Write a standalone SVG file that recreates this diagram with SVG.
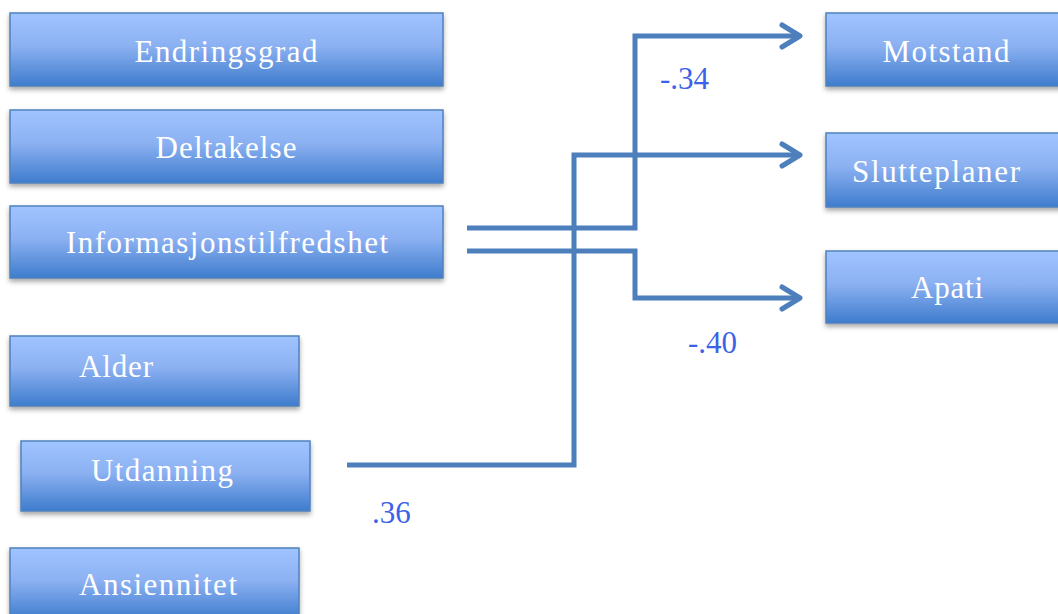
<svg xmlns="http://www.w3.org/2000/svg" width="1058" height="614" viewBox="0 0 1058 614">
<style>
.box{fill:url(#g);stroke:#4f81bd;stroke-width:1.5;filter:url(#sh)}
.t{font-family:"Liberation Serif","Times New Roman",serif;font-size:31px;fill:#ffffff;text-anchor:middle}
.c{fill:none;stroke:#4d7fbc;stroke-width:5;stroke-linejoin:miter}
.l{font-family:"Liberation Serif","Times New Roman",serif;font-size:31px;fill:#3b62e8}
</style>
<defs>
<linearGradient id="g" x1="0" y1="0" x2="0" y2="1">
<stop offset="0" stop-color="#a0c4ff"/>
<stop offset="0.45" stop-color="#8cb1f2"/>
<stop offset="1" stop-color="#3e7ccd"/>
</linearGradient>
<filter id="sh" x="-5%" y="-10%" width="110%" height="130%">
<feDropShadow dx="0" dy="3" stdDeviation="2.5" flood-color="#000" flood-opacity="0.35"/>
</filter>
<marker id="ah" markerUnits="userSpaceOnUse" markerWidth="30" markerHeight="30" refX="24" refY="15" orient="auto" viewBox="0 0 30 30">
<path d="M6,4 L24,15 L6,26" fill="none" stroke="#4d7fbc" stroke-width="5" stroke-linecap="round" stroke-linejoin="round"/>
</marker>
</defs>
<rect width="1058" height="614" fill="#ffffff"/>
<g id="connectors">
<path class="c" d="M467,228 H635 V36 H800" marker-end="url(#ah)"/>
<path class="c" d="M467,251 H635 V298 H800" marker-end="url(#ah)"/>
<path class="c" d="M347,465 H574 V155 H800" marker-end="url(#ah)"/>
<text class="l" x="660" y="89">-.34</text>
<text class="l" x="688" y="353">-.40</text>
<text class="l" x="372" y="523">.36</text>
</g>
<g id="endringsgrad"><rect class="box" x="10" y="13" width="433" height="73"/><text class="t" x="226" y="62" textLength="183" lengthAdjust="spacing">Endringsgrad</text></g>
<g id="deltakelse"><rect class="box" x="10" y="110" width="433" height="73"/><text class="t" x="226" y="158" textLength="141" lengthAdjust="spacing">Deltakelse</text></g>
<g id="informasjonstilfredshet"><rect class="box" x="10" y="206" width="433" height="72"/><text class="t" x="227" y="253" textLength="322" lengthAdjust="spacing">Informasjonstilfredshet</text></g>
<g id="alder"><rect class="box" x="10" y="336" width="289" height="70"/><text class="t" x="116" y="377" textLength="74" lengthAdjust="spacing">Alder</text></g>
<g id="utdanning"><rect class="box" x="21" y="441" width="289" height="70"/><text class="t" x="162" y="481" textLength="142" lengthAdjust="spacing">Utdanning</text></g>
<g id="ansiennitet"><rect class="box" x="10" y="548" width="289" height="72"/><text class="t" x="158" y="595" textLength="158" lengthAdjust="spacing">Ansiennitet</text></g>
<g id="motstand"><rect class="box" x="826" y="13" width="240" height="73"/><text class="t" x="946" y="62" textLength="127" lengthAdjust="spacing">Motstand</text></g>
<g id="slutteplaner"><rect class="box" x="826" y="133" width="240" height="74"/><text class="t" x="936" y="182" textLength="168" lengthAdjust="spacing">Slutteplaner</text></g>
<g id="apati"><rect class="box" x="826" y="251" width="240" height="72"/><text class="t" x="947" y="298" textLength="72" lengthAdjust="spacing">Apati</text></g>
</svg>
